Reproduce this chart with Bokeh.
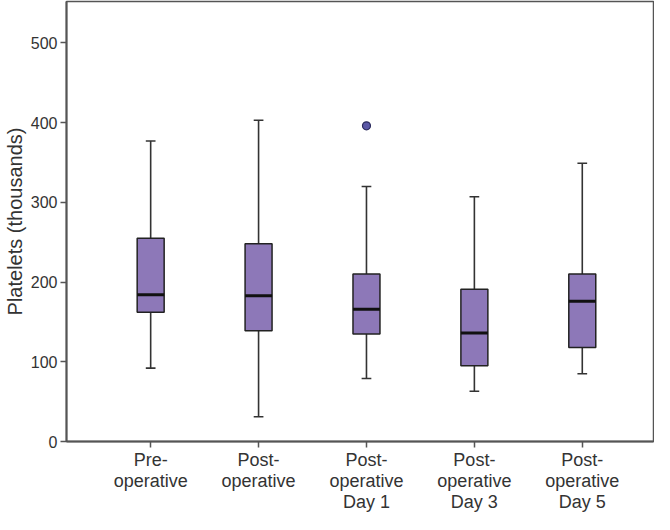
from bokeh.plotting import figure
from bokeh.models import FixedTicker, Range1d
from bokeh.embed import file_html
from bokeh.resources import INLINE

# Data
categories = ["Pre-\noperative", "Post-\noperative", "Post-\noperative\nDay 1",
              "Post-\noperative\nDay 3", "Post-\noperative\nDay 5"]
lower_whisker = [92, 31, 79, 63, 85]
q1 = [162, 139, 135, 95, 118]
median = [184, 183, 166, 136, 176]
q3 = [255, 248, 210, 191, 210]
upper_whisker = [377, 403, 320, 307, 349]
outlier_group = [2]
outlier_value = [396]
y_ticks = [0, 100, 200, 300, 400, 500]

xs = list(range(len(categories)))

p = figure(width=654, height=514, output_backend="svg", toolbar_location=None,
           x_range=Range1d(-0.78, 4.66), y_range=Range1d(0, 552),
           min_border_left=0, min_border_right=1, min_border_top=1, min_border_bottom=0)

FONT = "Liberation Sans"
TXT = "#333333"

box_w = 0.25
cap_w = 0.09

# whiskers
p.segment(x0=xs, y0=q3, x1=xs, y1=upper_whisker, line_color="#333333", line_width=1.6)
p.segment(x0=xs, y0=q1, x1=xs, y1=lower_whisker, line_color="#333333", line_width=1.6)
# caps
p.segment(x0=[x - cap_w / 2 for x in xs], y0=upper_whisker,
          x1=[x + cap_w / 2 for x in xs], y1=upper_whisker, line_color="#333333", line_width=1.6)
p.segment(x0=[x - cap_w / 2 for x in xs], y0=lower_whisker,
          x1=[x + cap_w / 2 for x in xs], y1=lower_whisker, line_color="#333333", line_width=1.6)
# boxes
p.vbar(x=xs, width=box_w, bottom=q1, top=q3, fill_color="#8d78b8",
       line_color="#222222", line_width=1.5)
# medians
p.segment(x0=[x - box_w / 2 for x in xs], y0=median,
          x1=[x + box_w / 2 for x in xs], y1=median, line_color="#111111", line_width=3)
# outlier
p.scatter(x=outlier_group, y=outlier_value, size=8, marker="circle",
          fill_color="#5b58a6", line_color="#2b2b5c", line_width=1.2)

p.grid.visible = False
p.outline_line_color = "#555555"
p.outline_line_width = 1.5

p.xaxis.ticker = FixedTicker(ticks=xs)
p.xaxis.major_label_overrides = {i: c for i, c in enumerate(categories)}
p.yaxis.ticker = FixedTicker(ticks=y_ticks)

for ax in (p.xaxis[0], p.yaxis[0]):
    ax.axis_line_color = "#555555"
    ax.axis_line_width = 2
    ax.major_tick_line_color = "#555555"
    ax.major_tick_line_width = 1.5
    ax.major_tick_in = 0
    ax.major_tick_out = 6
    ax.minor_tick_line_color = None
    ax.major_label_text_font = FONT
    ax.major_label_text_color = TXT
    ax.major_label_standoff = 3

p.xaxis.major_label_standoff = 2
p.xaxis.major_label_text_font_size = "18px"
p.xaxis.major_label_text_line_height = 1.05
p.yaxis.major_label_text_font_size = "16px"
p.yaxis.axis_label = "Platelets (thousands)"
p.yaxis.axis_label_text_font = FONT
p.yaxis.axis_label_text_font_size = "20px"
p.yaxis.axis_label_text_font_style = "normal"
p.yaxis.axis_label_text_color = TXT
p.yaxis.axis_label_standoff = 2

open("out.html", "w").write(file_html(p, INLINE))
